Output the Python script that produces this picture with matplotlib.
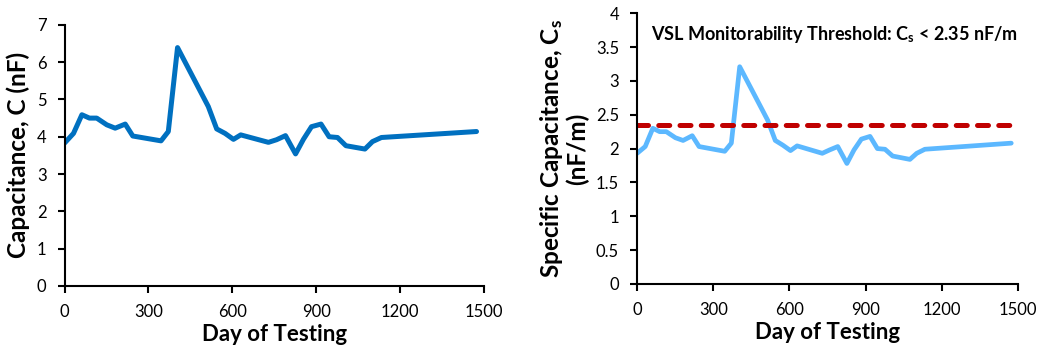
import matplotlib
matplotlib.use("Agg")
import matplotlib.pyplot as plt

plt.rcParams['font.family'] = ['Lato', 'DejaVu Sans']
plt.rcParams['mathtext.fontset'] = 'custom'
plt.rcParams['mathtext.rm'] = 'Lato'
plt.rcParams['mathtext.bf'] = 'Lato:bold'
plt.rcParams['mathtext.it'] = 'Lato:italic'

days = [0, 32, 62, 89, 115, 151, 181, 217, 244, 345, 371, 404, 514, 544, 574,
        604, 630, 729, 758, 790, 826, 854, 883, 917, 946, 976, 1006, 1074,
        1101, 1133, 1473]
cap_c = [3.83, 4.09, 4.59, 4.50, 4.50, 4.32, 4.23, 4.34, 4.02, 3.89, 4.14, 6.39,
         4.81, 4.21, 4.09, 3.93, 4.05, 3.85, 3.92, 4.03, 3.54, 3.93, 4.27, 4.34,
         4.00, 3.98, 3.76, 3.67, 3.87, 3.98, 4.14]
cap_cs = [1.93, 2.03, 2.30, 2.25, 2.25, 2.16, 2.12, 2.19, 2.03, 1.96, 2.08, 3.21,
          2.42, 2.12, 2.05, 1.97, 2.04, 1.93, 1.98, 2.03, 1.78, 1.98, 2.14, 2.18,
          2.00, 1.99, 1.89, 1.84, 1.93, 1.99, 2.08]

threshold = 2.35
x_ticks = [0, 300, 600, 900, 1200, 1500]
y_ticks_left = [0, 1, 2, 3, 4, 5, 6, 7]
y_ticks_right = [0, 0.5, 1, 1.5, 2, 2.5, 3, 3.5, 4]
y_ticklabels_right = ['0', '0.5', '1', '1.5', '2', '2.5', '3', '3.5', '4']

fig = plt.figure(figsize=(10.41, 3.5), dpi=100)
ax1 = fig.add_axes([0.062, 0.183, 0.403, 0.746])
ax2 = fig.add_axes([0.612, 0.189, 0.366, 0.773])

def style(ax):
    for s in ['top', 'right']:
        ax.spines[s].set_visible(False)
    for s in ['left', 'bottom']:
        ax.spines[s].set_linewidth(1.5)
        ax.spines[s].set_color('black')
    ax.tick_params(axis='both', direction='out', length=5, width=1.5,
                   labelsize=12, colors='black')
    ax.tick_params(axis='x', pad=8)
    ax.tick_params(axis='y', pad=8)
    ax.set_xlim(0, 1500)
    ax.set_xticks(x_ticks)
    ax.set_xlabel('Day of Testing', fontsize=16, fontweight='bold', labelpad=3)

ax1.plot(days, cap_c, color='#0070C0', lw=3.6, solid_joinstyle='round',
         solid_capstyle='round')
style(ax1)
ax1.set_ylim(0, 7)
ax1.set_yticks(y_ticks_left)
ax1.set_ylabel('Capacitance, C (nF)', fontsize=17.5, fontweight='bold', labelpad=5)

ax2.plot(days, cap_cs, color='#5CB8FF', lw=3.4, solid_joinstyle='round',
         solid_capstyle='round')
ax2.axhline(threshold, color='#C00000', lw=3.6, dashes=(2.2, 2.05),
            dash_capstyle='round')
style(ax2)
ax2.set_ylim(0, 4)
ax2.set_yticks(y_ticks_right)
ax2.set_yticklabels(y_ticklabels_right)
ax2.set_ylabel('Specific Capacitance, C$_\\mathbf{s}$\n(nF/m)', fontsize=17.5,
               fontweight='bold', labelpad=5, linespacing=1.0)
ax2.text(1.0, 0.92, 'VSL Monitorability Threshold: C$_\\mathbf{s}$ < 2.35 nF/m',
         transform=ax2.transAxes, ha='right', va='center', fontsize=13,
         fontweight='bold')

fig.savefig('out.png', dpi=100)
